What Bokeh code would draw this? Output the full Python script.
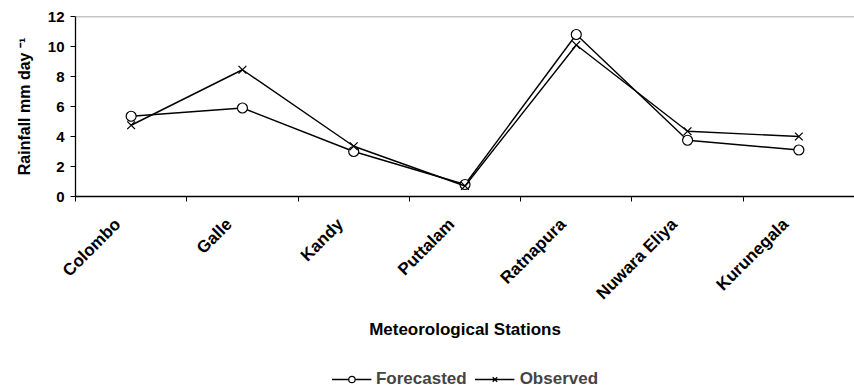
import math
from bokeh.plotting import figure
from bokeh.layouts import column
from bokeh.models import (FixedTicker, Span, Legend, LegendItem, Range1d)
from bokeh.embed import file_html
from bokeh.resources import INLINE

stations = ["Colombo", "Galle", "Kandy", "Puttalam", "Ratnapura", "Nuwara Eliya", "Kurunegala"]
forecasted = [5.35, 5.9, 3.0, 0.8, 10.8, 3.75, 3.1]
observed = [4.75, 8.45, 3.35, 0.7, 10.1, 4.35, 4.0]
y_ticks = [0, 2, 4, 6, 8, 10, 12]

xs = list(range(1, len(stations) + 1))
FONT = "Liberation Sans"

p = figure(frame_width=779, frame_height=180,
           output_backend="svg", toolbar_location=None,
           x_range=Range1d(0.5, len(stations) + 0.5), y_range=Range1d(0, 12),
           min_border_left=75, min_border_right=0, min_border_top=16, min_border_bottom=170)
p.grid.visible = False
p.outline_line_color = None
p.background_fill_color = "white"

p.add_layout(Span(location=12, dimension="width", line_color="#8c8c8c", line_width=1.5))

STYLE_F = dict(marker="circle", size=10, fill_color="white", line_color="black", line_width=1.2)
STYLE_O = dict(marker="x", size=11, line_color="black", line_width=1.3)

p.line(xs, forecasted, line_color="black", line_width=1.4)
p.scatter(xs, forecasted, **STYLE_F)
p.line(xs, observed, line_color="black", line_width=1.4)
p.scatter(xs, observed, **STYLE_O)

# x axis: labels near category centres, ticks at category boundaries
label_pos = [round(x - 0.12, 2) for x in xs]
xa = p.xaxis[0]
xa.ticker = FixedTicker(ticks=label_pos, minor_ticks=[x + 0.5 for x in [0] + xs])
xa.major_label_overrides = {lp: s for lp, s in zip(label_pos, stations)}
xa.major_label_orientation = math.pi / 4
xa.major_tick_out = 0
xa.major_tick_in = 0
xa.minor_tick_out = 5
xa.minor_tick_in = 0
xa.minor_tick_line_color = "black"
xa.axis_line_color = "black"
xa.axis_line_width = 1.3
xa.major_label_text_font = FONT
xa.major_label_text_font_style = "bold"
xa.major_label_text_font_size = "17px"
xa.major_label_text_color = "black"
xa.major_label_standoff = 20
xa.axis_label = "Meteorological Stations"
xa.axis_label_text_font = FONT
xa.axis_label_text_font_style = "bold"
xa.axis_label_text_font_size = "17px"
xa.axis_label_text_color = "black"
xa.axis_label_standoff = 7

ya = p.yaxis[0]
ya.ticker = FixedTicker(ticks=y_ticks, minor_ticks=[])
ya.major_tick_out = 5
ya.major_tick_in = 0
ya.major_tick_line_color = "black"
ya.axis_line_color = "black"
ya.axis_line_width = 1.3
ya.major_label_text_font = FONT
ya.major_label_text_font_style = "bold"
ya.major_label_text_font_size = "15px"
ya.major_label_text_color = "black"
ya.major_label_standoff = 6
ya.axis_label = "Rainfall mm day \u207b\u00b9"
ya.axis_label_text_font = FONT
ya.axis_label_text_font_style = "bold"
ya.axis_label_text_font_size = "16px"
ya.axis_label_text_color = "black"
ya.axis_label_standoff = 12

# legend strip below the chart (its glyphs lie outside its own visible range)
q = figure(width=854, height=25, output_backend="svg", toolbar_location=None,
           x_range=Range1d(0.5, len(stations) + 0.5), y_range=Range1d(100, 101),
           min_border=0)
q.axis.visible = False
q.grid.visible = False
q.outline_line_color = None
qlf = q.line(xs, forecasted, line_color="black", line_width=1.4)
qsf = q.scatter(xs, forecasted, **STYLE_F)
qlo = q.line(xs, observed, line_color="black", line_width=1.4)
qso = q.scatter(xs, observed, **STYLE_O)

legend = Legend(items=[LegendItem(label="Forecasted", renderers=[qlf, qsf]),
                       LegendItem(label="Observed", renderers=[qlo, qso])],
                orientation="horizontal", location="center",
                label_text_font=FONT, label_text_font_style="bold", label_text_font_size="17px",
                glyph_width=40, glyph_height=16, spacing=8, label_standoff=5,
                border_line_color=None, background_fill_alpha=0, padding=1, margin=0)
q.add_layout(legend, "center")

layout = column(p, q, spacing=0)
open("out.html", "w").write(file_html(layout, INLINE))
